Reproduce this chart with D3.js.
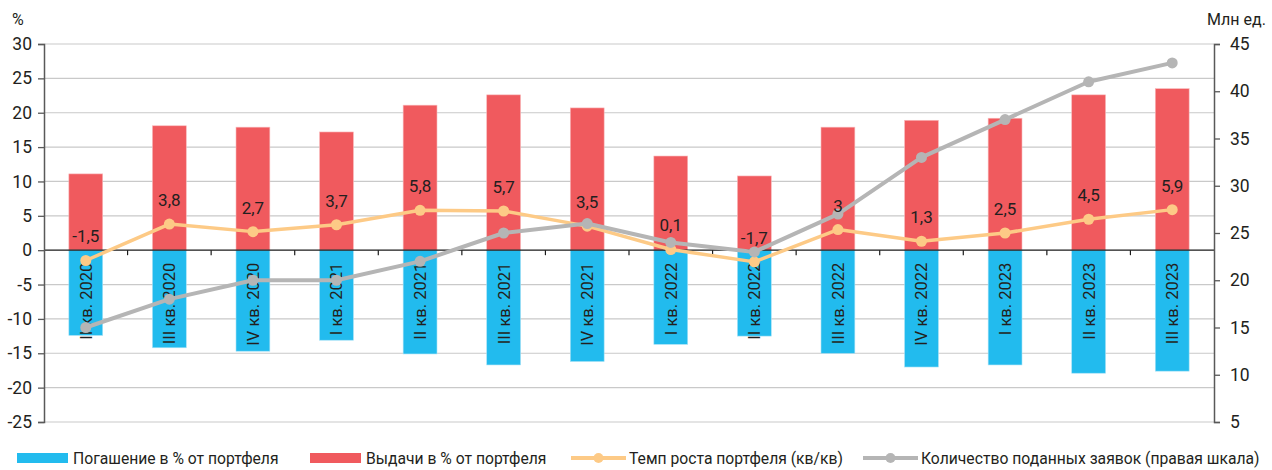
<!DOCTYPE html>
<html>
<head>
<meta charset="utf-8">
<script src="https://cdn.jsdelivr.net/npm/d3@7/dist/d3.min.js"></script>
<style>
  html, body { margin: 0; padding: 0; background: #fff; }
  svg { display: block; font-family: Roboto, "Noto Sans", sans-serif; }
</style>
</head>
<body>
<svg id="chart" width="1272" height="470"></svg>
<script>
// Quarters
const categories = ["II кв. 2020", "III кв. 2020", "IV кв. 2020", "I кв. 2021", "II кв. 2021",
  "III кв. 2021", "IV кв. 2021", "I кв. 2022", "II кв. 2022", "III кв. 2022",
  "IV кв. 2022", "I кв. 2023", "II кв. 2023", "III кв. 2023"];
// Repayments, % of portfolio (negative bars)
const repayment = [-12.4, -14.2, -14.7, -13.1, -15.1, -16.7, -16.2, -13.7, -12.5, -15.0, -17.0, -16.7, -17.9, -17.6];
// Issuance, % of portfolio
const issuance = [11.1, 18.1, 17.9, 17.2, 21.1, 22.6, 20.7, 13.7, 10.8, 17.9, 18.9, 19.2, 22.6, 23.5];
// Portfolio growth rate, q/q
const growth = [-1.5, 3.8, 2.7, 3.7, 5.8, 5.7, 3.5, 0.1, -1.7, 3, 1.3, 2.5, 4.5, 5.9];
// Applications submitted, mln (right axis)
const applications = [15, 18, 20, 20, 22, 25, 26, 24, 23, 27, 33, 37, 41, 43];

const leftTicks = [30, 25, 20, 15, 10, 5, 0, -5, -10, -15, -20, -25];
const rightTicks = [45, 40, 35, 30, 25, 20, 15, 10, 5];

const legendItems = [
  { label: "Погашение в % от портфеля", type: "bar", color: "#22bbee" },
  { label: "Выдачи в % от портфеля", type: "bar", color: "#f05a5e" },
  { label: "Темп роста портфеля (кв/кв)", type: "line", color: "#fdca86" },
  { label: "Количество поданных заявок (правая шкала)", type: "line", color: "#b5b5b5" }
];

const C = { blue: "#22bbee", red: "#f05a5e", orange: "#fdca86", gray: "#b5b5b5",
  grid: "#c9c9c9", axis: "#595959", text: "#231f20" };

const svg = d3.select("#chart");
const plotLeft = 44, plotRight = 1214, plotTop = 44, plotBottom = 422;

const x = d3.scaleBand().domain(categories).range([plotLeft, plotRight]).paddingInner(0).paddingOuter(0);
const y = d3.scaleLinear().domain([-25, 30]).range([plotBottom, plotTop]);
const y2 = d3.scaleLinear().domain([5, 45]).range([plotBottom, plotTop]);
const barW = x.bandwidth() * 0.405;
const cx = d => x(d) + x.bandwidth() / 2;

// Horizontal gridlines
svg.append("g").selectAll("line").data(leftTicks.filter(t => t !== 0)).join("line")
  .attr("x1", plotLeft).attr("x2", plotRight)
  .attr("y1", d => y(d)).attr("y2", d => y(d))
  .attr("stroke", C.grid).attr("stroke-width", 1.2);

// Bars
svg.append("g").selectAll("rect").data(categories).join("rect")
  .attr("x", (d) => cx(d) - barW / 2).attr("width", barW)
  .attr("y", (d, i) => y(issuance[i]))
  .attr("height", (d, i) => y(0) - y(issuance[i]))
  .attr("fill", C.red).attr("stroke", "#f9b9bb").attr("stroke-width", 0.6);

svg.append("g").selectAll("rect").data(categories).join("rect")
  .attr("x", (d) => cx(d) - barW / 2).attr("width", barW)
  .attr("y", y(0))
  .attr("height", (d, i) => y(repayment[i]) - y(0))
  .attr("fill", C.blue).attr("stroke", "#a8e2f6").attr("stroke-width", 0.6);

// Zero line with category boundary ticks
const zero = svg.append("g").attr("transform", `translate(0,${y(0)})`);
zero.append("line").attr("x1", plotLeft).attr("x2", plotRight).attr("stroke", "#1a1a1a").attr("stroke-width", 1.3);
zero.selectAll("line.tick").data(categories.slice(1)).join("line")
  .attr("class", "tick")
  .attr("x1", d => x(d)).attr("x2", d => x(d))
  .attr("y1", 0).attr("y2", 5)
  .attr("stroke", "#1a1a1a").attr("stroke-width", 1.2);

// Category labels, rotated inside the negative bars
svg.append("g").selectAll("text").data(categories).join("text")
  .attr("transform", d => `translate(${cx(d)},${y(0) + 12.5}) rotate(-90)`)
  .attr("dy", "0.36em")
  .attr("text-anchor", "end")
  .attr("font-size", 16.5)
  .attr("fill", C.text)
  .text(d => d);

// Lines
const lineLeft = d3.line().x((d, i) => cx(categories[i])).y(d => y(d));
const lineRight = d3.line().x((d, i) => cx(categories[i])).y(d => y2(d));

svg.append("path").datum(growth).attr("d", lineLeft)
  .attr("fill", "none").attr("stroke", C.orange).attr("stroke-width", 3.5).attr("stroke-linejoin", "round");
svg.append("g").selectAll("circle").data(growth).join("circle")
  .attr("cx", (d, i) => cx(categories[i])).attr("cy", d => y(d)).attr("r", 5.5)
  .attr("fill", C.orange);

svg.append("path").datum(applications).attr("d", lineRight)
  .attr("fill", "none").attr("stroke", C.gray).attr("stroke-width", 4).attr("stroke-linejoin", "round");
svg.append("g").selectAll("circle").data(applications).join("circle")
  .attr("cx", (d, i) => cx(categories[i])).attr("cy", d => y2(d)).attr("r", 5.5)
  .attr("fill", C.gray);

// Growth value labels
const fmt = v => String(v).replace(".", ",");
svg.append("g").selectAll("text").data(growth).join("text")
  .attr("x", (d, i) => cx(categories[i]))
  .attr("y", d => y(d) - 18)
  .attr("text-anchor", "middle")
  .attr("font-size", 17)
  .attr("fill", C.text)
  .text(d => fmt(d));

// Left axis
const axL = svg.append("g").attr("transform", `translate(${plotLeft},0)`)
  .call(d3.axisLeft(y).tickValues(leftTicks).tickSize(6).tickPadding(6).tickFormat(d => d));
axL.select(".domain").attr("stroke", C.axis).attr("stroke-width", 1.5);
axL.selectAll(".tick line").attr("stroke", C.axis).attr("stroke-width", 1.3);
axL.selectAll(".tick text").attr("font-size", 17.5).attr("fill", C.text).attr("font-family", "Roboto, sans-serif");

// Right axis
const axR = svg.append("g").attr("transform", `translate(${plotRight},0)`)
  .call(d3.axisRight(y2).tickValues(rightTicks).tickSize(6).tickPadding(10));
axR.select(".domain").attr("stroke", C.axis).attr("stroke-width", 1.5);
axR.selectAll(".tick line").attr("stroke", C.axis).attr("stroke-width", 1.3);
axR.selectAll(".tick text").attr("font-size", 17.5).attr("fill", C.text).attr("font-family", "Roboto, sans-serif");

// Axis units
svg.append("text").attr("x", 12).attr("y", 25).attr("font-size", 16).attr("fill", C.text).text("%");
svg.append("text").attr("x", 1207).attr("y", 25).attr("font-size", 16).attr("fill", C.text).text("Млн ед.");

// Legend
const legendX = [17, 310, 571, 863];
const lg = svg.append("g");
legendItems.forEach((it, i) => {
  const g = lg.append("g").attr("transform", `translate(${legendX[i]},458)`);
  if (it.type === "bar") {
    g.append("rect").attr("x", 0).attr("y", -5).attr("width", 51).attr("height", 10).attr("fill", it.color);
  } else {
    g.append("line").attr("x1", 0).attr("x2", 55).attr("stroke", it.color).attr("stroke-width", 4);
    g.append("circle").attr("cx", 27.5).attr("r", 5).attr("fill", it.color);
  }
  g.append("text").attr("x", it.type === "bar" ? 56 : 58).attr("y", 0).attr("dy", "0.35em")
    .attr("font-size", 15.7).attr("fill", C.text).text(it.label);
});
</script>
</body>
</html>
